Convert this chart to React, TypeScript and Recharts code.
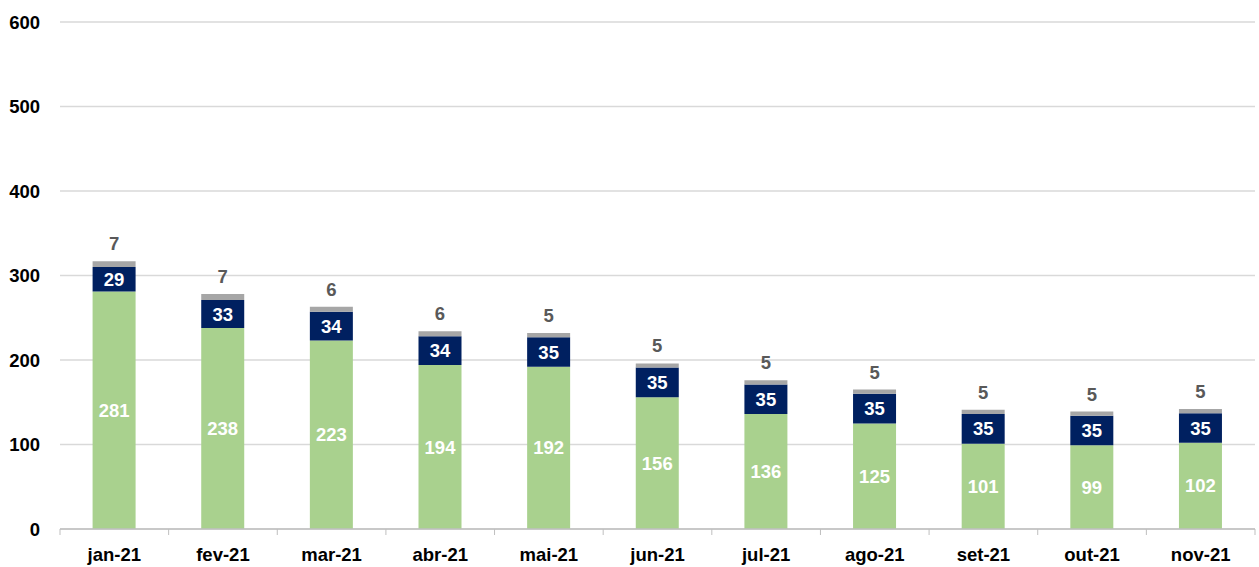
import React from "react";
import {
  BarChart,
  Bar,
  XAxis,
  YAxis,
  CartesianGrid,
  LabelList,
} from "recharts";

const months = ["jan-21", "fev-21", "mar-21", "abr-21", "mai-21", "jun-21", "jul-21", "ago-21", "set-21", "out-21", "nov-21"];
const greenValues = [281, 238, 223, 194, 192, 156, 136, 125, 101, 99, 102];
const navyValues = [29, 33, 34, 34, 35, 35, 35, 35, 35, 35, 35];
const grayValues = [7, 7, 6, 6, 5, 5, 5, 5, 5, 5, 5];
const yTicks = [0, 100, 200, 300, 400, 500, 600];

const data = months.map((m, i) => ({
  month: m,
  green: greenValues[i],
  navy: navyValues[i],
  gray: grayValues[i],
}));

const W = 1259;
const H = 567;
const margin = { top: 22, right: 4, left: 0, bottom: 0 };
const yAxisWidth = 60;
const band = (W - margin.left - margin.right - yAxisWidth) / months.length;
const font = "'Liberation Sans', Arial, sans-serif";
const fs = 18.5;

function MonthTick(props: any) {
  const { x, y, payload, index } = props;
  const half = band / 2;
  return (
    <g>
      <line x1={x - half} x2={x - half} y1={y - 8} y2={y - 2} stroke="#BFBFBF" />
      {index === months.length - 1 && (
        <line x1={x + half} x2={x + half} y1={y - 8} y2={y - 2} stroke="#BFBFBF" />
      )}
      <text x={x} y={y + 24} textAnchor="middle" fill="#000" fontSize={fs} fontWeight="bold" fontFamily={font}>
        {payload.value}
      </text>
    </g>
  );
}

export default function App() {
  return (
    <div style={{ position: "absolute", left: 0, top: 0, background: "#fff" }}>
      <BarChart width={W} height={H} data={data} margin={margin} barCategoryGap="30%">
        <CartesianGrid vertical={false} stroke="#D9D9D9" strokeWidth={1.5} />
        <XAxis
          dataKey="month"
          height={38}
          axisLine={{ stroke: "#BFBFBF", strokeWidth: 1.5 }}
          tickLine={false}
          tick={<MonthTick />}
          interval={0}
        />
        <YAxis
          width={yAxisWidth}
          domain={[0, 600]}
          ticks={yTicks}
          axisLine={false}
          tickLine={false}
          tickMargin={14}
          tick={{ fill: "#000", fontSize: fs, fontWeight: "bold", fontFamily: font }}
        />
        <Bar dataKey="green" stackId="a" fill="#A9D18E" isAnimationActive={false}>
          <LabelList dataKey="green" position="center" fill="#fff" fontSize={fs} fontWeight="bold" fontFamily={font} />
        </Bar>
        <Bar dataKey="navy" stackId="a" fill="#002060" isAnimationActive={false}>
          <LabelList dataKey="navy" position="center" fill="#fff" fontSize={fs} fontWeight="bold" fontFamily={font} />
        </Bar>
        <Bar dataKey="gray" stackId="a" fill="#A6A6A6" isAnimationActive={false}>
          <LabelList dataKey="gray" position="top" offset={11} fill="#595959" fontSize={fs} fontWeight="bold" fontFamily={font} />
        </Bar>
      </BarChart>
    </div>
  );
}
